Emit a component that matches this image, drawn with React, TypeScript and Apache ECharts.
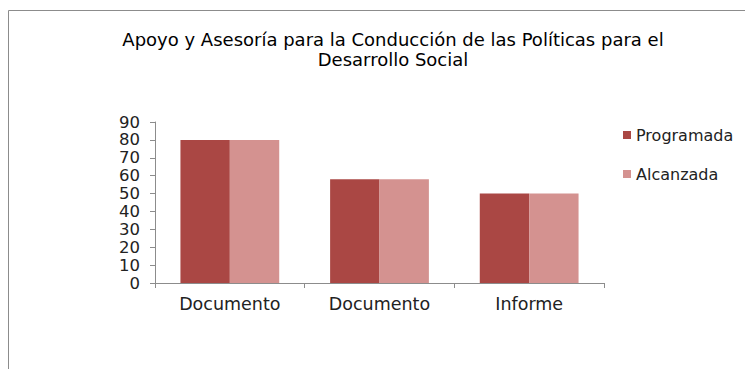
import React, { useEffect, useRef } from "react";
import * as echarts from "echarts";

const titleText = "Apoyo y Asesoría para la Conducción de las Políticas para el\nDesarrollo Social";
const categories = ["Documento", "Documento", "Informe"];
const seriesNames = ["Programada", "Alcanzada"];
const programada = [80, 58, 50];
const alcanzada = [80, 58, 50];
const colors = ["#AA4744", "#D49290"];
const FONT = "'DejaVu Sans', sans-serif";

export default function App() {
  const ref = useRef<HTMLDivElement>(null);
  useEffect(() => {
    document.body.style.margin = "0";
    const chart = echarts.init(ref.current!, null, { renderer: "svg" });
    chart.setOption({
      animation: false,
      backgroundColor: "#ffffff",
      title: {
        text: titleText,
        left: 388,
        top: 24,
        textAlign: "center",
        textStyle: { fontFamily: FONT, fontSize: 18, fontWeight: "normal", color: "#000", lineHeight: 20 },
      },
      graphic: [
        {
          type: "polyline",
          shape: { points: [[8.5, 400], [8.5, 10.5], [760, 10.5]] },
          style: { stroke: "#8c8c8c", lineWidth: 1, fill: "none" },
        },
      ],
      legend: {
        orient: "vertical",
        left: 618,
        top: 122,
        itemWidth: 8,
        itemHeight: 8,
        itemGap: 23,
        icon: "rect",
        textStyle: { fontFamily: FONT, fontSize: 16, color: "#222" },
        data: seriesNames,
      },
      grid: { left: 155, right: 141, top: 122, bottom: 86, containLabel: false },
      xAxis: {
        type: "category",
        data: categories,
        axisLine: { lineStyle: { color: "#8c8c8c" } },
        axisTick: { show: true, length: 5, lineStyle: { color: "#8c8c8c" } },
        axisLabel: { fontFamily: FONT, fontSize: 17.5, color: "#222", margin: 12 },
      },
      yAxis: {
        type: "value",
        min: 0,
        max: 90,
        interval: 10,
        splitLine: { show: false },
        axisLine: { show: true, lineStyle: { color: "#8c8c8c" } },
        axisTick: { show: true, length: 5, lineStyle: { color: "#8c8c8c" } },
        axisLabel: {
          fontFamily: FONT,
          fontSize: 16.5,
          lineHeight: 16,
          color: "#222",
          margin: 15,
          showMinLabel: true,
          showMaxLabel: true,
          hideOverlap: false,
        },
      },
      series: [
        { name: seriesNames[0], type: "bar", data: programada, itemStyle: { color: colors[0] }, barGap: "0%", barCategoryGap: "34%" },
        { name: seriesNames[1], type: "bar", data: alcanzada, itemStyle: { color: colors[1] }, barGap: "0%", barCategoryGap: "34%" },
      ],
    });
    return () => chart.dispose();
  }, []);
  return <div ref={ref} style={{ width: 745, height: 369 }} />;
}
